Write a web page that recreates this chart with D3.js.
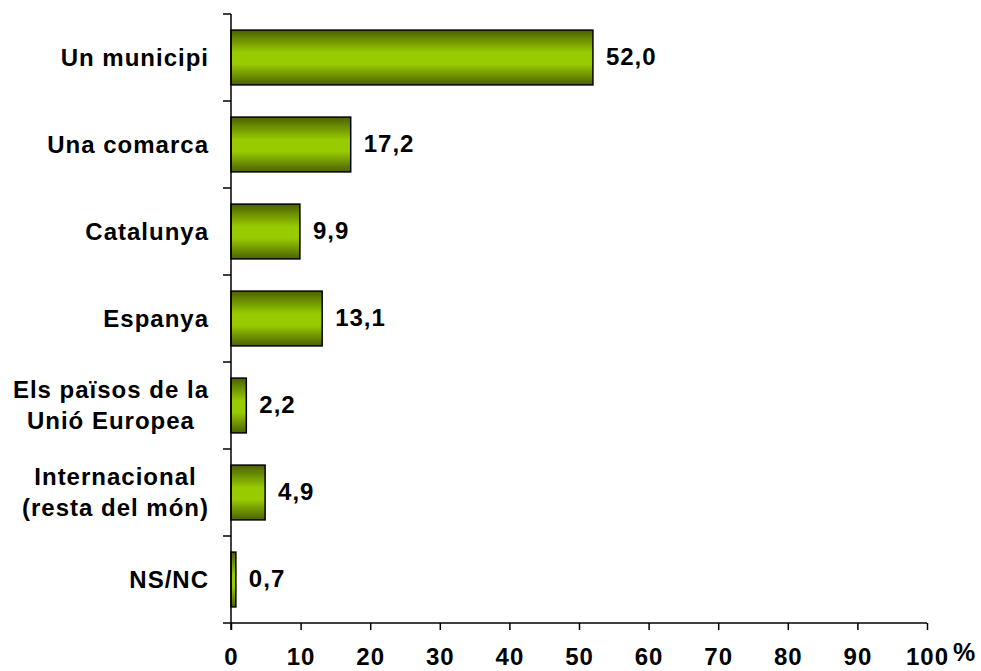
<!DOCTYPE html>
<html>
<head>
<meta charset="utf-8">
<script src="https://cdn.jsdelivr.net/npm/d3@7"></script>
<style>
  body { margin: 0; background: #fff; }
  svg { font-family: "Liberation Sans", Arial, sans-serif; font-weight: bold; letter-spacing: 1px; }
</style>
</head>
<body>
<script>
var categories = [
  ["Un municipi"],
  ["Una comarca"],
  ["Catalunya"],
  ["Espanya"],
  ["Els països de la", "Unió Europea"],
  ["Internacional", "(resta del món)"],
  ["NS/NC"]
];
var values = [52.0, 17.2, 9.9, 13.1, 2.2, 4.9, 0.7];
var xTicks = [0, 10, 20, 30, 40, 50, 60, 70, 80, 90, 100];

var W = 981, H = 671;
var FS = 24;
var svg = d3.select("body").append("svg")
  .attr("width", W).attr("height", H);

var x = d3.scaleLinear().domain([0, 100]).range([231, 927]);
var y = d3.scaleBand().domain(d3.range(categories.length))
  .range([14, 623]).paddingInner(0.37).paddingOuter(0.185);

var defs = svg.append("defs");
var grad = defs.append("linearGradient").attr("id", "barGrad")
  .attr("x1", 0).attr("y1", 0).attr("x2", 0).attr("y2", 1);
grad.append("stop").attr("offset", "0%").attr("stop-color", "#4b6100");
grad.append("stop").attr("offset", "42%").attr("stop-color", "#99cc00");
grad.append("stop").attr("offset", "62%").attr("stop-color", "#99cc00");
grad.append("stop").attr("offset", "100%").attr("stop-color", "#4b6100");

// bars
svg.selectAll("rect.bar").data(values).enter().append("rect")
  .attr("class", "bar")
  .attr("x", x(0))
  .attr("y", function(d, i) { return y(i); })
  .attr("width", function(d) { return x(d) - x(0); })
  .attr("height", y.bandwidth())
  .attr("fill", "url(#barGrad)")
  .attr("stroke", "#000").attr("stroke-width", 1.5);

// value labels
svg.selectAll("text.val").data(values).enter().append("text")
  .attr("class", "val")
  .attr("x", function(d) { return x(d) + 13; })
  .attr("y", function(d, i) { return y(i) + y.bandwidth() / 2 - 1; })
  .attr("dy", "0.35em")
  .attr("font-size", FS)
  .text(function(d) { return d.toFixed(1).replace(".", ","); });

// y axis line with category boundary ticks
var step = y.step();
svg.append("line").attr("x1", x(0)).attr("x2", x(0))
  .attr("y1", 14).attr("y2", 630).attr("stroke", "#000").attr("stroke-width", 1.5);
svg.selectAll("line.ytick").data(d3.range(categories.length)).enter().append("line")
  .attr("class", "ytick")
  .attr("x1", x(0) - 8).attr("x2", x(0))
  .attr("y1", function(i) { return 14 + i * step; })
  .attr("y2", function(i) { return 14 + i * step; })
  .attr("stroke", "#000").attr("stroke-width", 1.5);

// x axis
var xAxis = svg.append("g").attr("transform", "translate(0,623)")
  .call(d3.axisBottom(x).tickValues(xTicks).tickSize(7).tickSizeOuter(0)
    .tickFormat(function(d) { return d; }));
xAxis.attr("font-family", null).attr("font-size", null);
xAxis.select(".domain").attr("stroke-width", 1.5).attr("d", "M" + (x(0) - 8) + ",0H" + x(100));
xAxis.selectAll(".tick line").attr("stroke-width", 1.5);
xAxis.selectAll(".tick text").attr("font-size", FS)
  .attr("fill", "#000").attr("y", 42).attr("dy", null);
svg.append("text").attr("x", 953).attr("y", 661)
  .attr("font-size", FS + 1).text("%");

// category labels
var labels = svg.selectAll("text.cat").data(categories).enter().append("text")
  .attr("class", "cat")
  .attr("font-size", FS)
  .attr("text-anchor", "middle");
labels.each(function(lines, i) {
  var t = d3.select(this);
  var cy = y(i) + y.bandwidth() / 2;
  var lh = 31;
  var y0 = cy - (lines.length - 1) * lh / 2;
  lines.forEach(function(s, k) {
    t.append("tspan").attr("x", 0).attr("y", y0 + k * lh).attr("dy", "0.35em").text(s);
  });
});
// right-align each block, lines centred within it
labels.each(function() {
  var bw = this.getBBox().width;
  d3.select(this).selectAll("tspan").attr("x", 209 - bw / 2);
});
</script>
</body>
</html>
